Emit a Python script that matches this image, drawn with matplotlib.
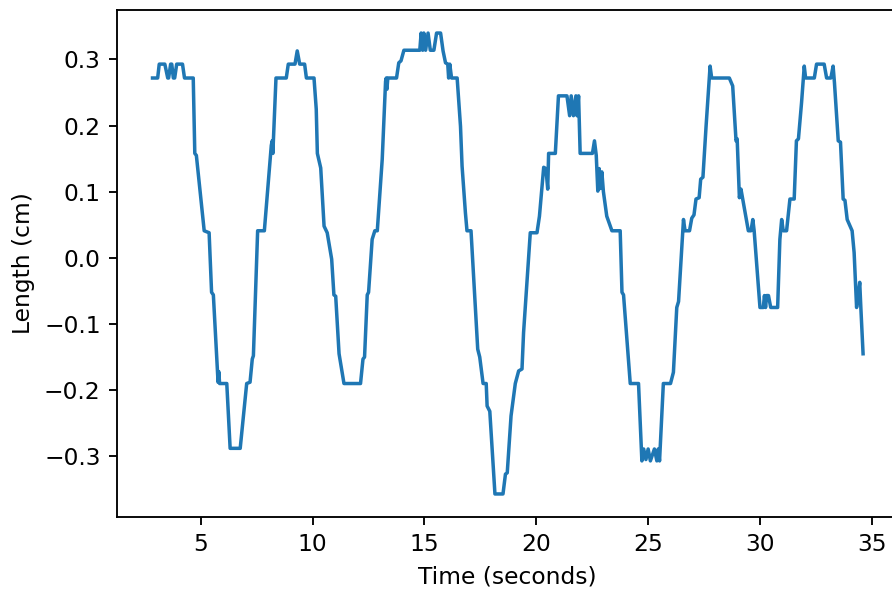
import matplotlib
matplotlib.use('Agg')
import matplotlib.pyplot as plt

# time (s) and length (cm)
time_s = [2.84, 3.07, 3.14, 3.39, 3.52, 3.56, 3.65, 3.70, 3.77, 3.83, 3.92, 4.18, 4.27, 4.66,
          4.73, 4.80, 5.15, 5.37, 5.48, 5.56, 5.77, 5.80, 5.84, 6.16, 6.31, 6.76, 7.05, 7.20,
          7.30, 7.35, 7.54, 7.84, 8.15, 8.19, 8.22, 8.36, 8.82, 8.91, 9.21, 9.31, 9.42, 9.64,
          9.72, 10.06, 10.16, 10.21, 10.36, 10.51, 10.65, 10.85, 10.95, 11.03, 11.18, 11.40,
          12.14, 12.25, 12.32, 12.44, 12.50, 12.66, 12.78, 12.89, 13.11, 13.26, 13.29, 13.32,
          13.36, 13.75, 13.85, 13.95, 14.08, 14.79, 14.85, 14.92, 14.97, 15.05, 15.16, 15.26,
          15.42, 15.54, 15.72, 15.83, 15.94, 16.04, 16.08, 16.13, 16.21, 16.46, 16.61, 16.68,
          16.83, 16.90, 17.08, 17.38, 17.47, 17.62, 17.76, 17.80, 17.92, 18.15, 18.51, 18.62,
          18.70, 18.87, 19.06, 19.21, 19.36, 19.43, 19.73, 20.03, 20.14, 20.33, 20.43, 20.51,
          20.55, 20.85, 20.99, 21.37, 21.49, 21.56, 21.66, 21.77, 21.82, 21.89, 21.96, 22.51,
          22.60, 22.68, 22.75, 22.81, 22.87, 22.93, 23.00, 23.15, 23.38, 23.75, 23.83, 23.90,
          24.20, 24.57, 24.72, 24.80, 24.90, 25.00, 25.10, 25.28, 25.39, 25.45, 25.51, 25.68,
          26.00, 26.13, 26.28, 26.36, 26.58, 26.65, 26.85, 26.95, 27.05, 27.14, 27.28, 27.35,
          27.45, 27.59, 27.77, 27.84, 28.63, 28.78, 28.93, 28.98, 29.08, 29.15, 29.48, 29.60,
          29.68, 29.74, 30.00, 30.15, 30.20, 30.25, 30.30, 30.38, 30.48, 30.79, 30.89, 30.97,
          31.04, 31.19, 31.34, 31.53, 31.63, 31.72, 31.86, 31.98, 32.04, 32.43, 32.53, 32.87,
          32.98, 33.17, 33.27, 33.33, 33.50, 33.60, 33.72, 33.80, 33.90, 34.12, 34.21, 34.32,
          34.39, 34.46, 34.51, 34.61]
length_cm = [0.272, 0.272, 0.293, 0.293, 0.272, 0.272, 0.293, 0.293, 0.272, 0.272, 0.293, 0.293,
             0.272, 0.272, 0.158, 0.155, 0.041, 0.038, -0.052, -0.056, -0.188, -0.172, -0.19,
             -0.19, -0.288, -0.288, -0.19, -0.188, -0.153, -0.148, 0.041, 0.041, 0.17, 0.177,
             0.158, 0.272, 0.272, 0.293, 0.293, 0.313, 0.293, 0.293, 0.272, 0.272, 0.225, 0.158,
             0.136, 0.048, 0.038, -0.002, -0.056, -0.058, -0.145, -0.19, -0.19, -0.153, -0.15,
             -0.056, -0.052, 0.028, 0.041, 0.041, 0.149, 0.267, 0.272, 0.255, 0.272, 0.272,
             0.295, 0.298, 0.314, 0.314, 0.340, 0.314, 0.340, 0.314, 0.340, 0.314, 0.314, 0.340,
             0.340, 0.313, 0.295, 0.293, 0.272, 0.293, 0.272, 0.272, 0.199, 0.139, 0.068, 0.041,
             0.041, -0.138, -0.15, -0.19, -0.19, -0.224, -0.232, -0.357, -0.357, -0.327, -0.325,
             -0.239, -0.19, -0.171, -0.168, -0.113, 0.038, 0.038, 0.063, 0.137, 0.135, 0.104,
             0.158, 0.158, 0.245, 0.245, 0.215, 0.245, 0.215, 0.245, 0.215, 0.245, 0.158, 0.158,
             0.177, 0.155, 0.101, 0.135, 0.105, 0.13, 0.10, 0.063, 0.041, 0.041, -0.052, -0.056,
             -0.19, -0.19, -0.307, -0.289, -0.305, -0.289, -0.307, -0.289, -0.307, -0.289,
             -0.307, -0.19, -0.19, -0.173, -0.075, -0.066, 0.058, 0.041, 0.041, 0.06, 0.065,
             0.089, 0.091, 0.119, 0.122, 0.199, 0.29, 0.272, 0.272, 0.26, 0.177, 0.18, 0.091,
             0.104, 0.041, 0.041, 0.058, 0.041, -0.075, -0.075, -0.057, -0.075, -0.057, -0.057,
             -0.075, -0.075, 0.028, 0.058, 0.041, 0.041, 0.089, 0.089, 0.177, 0.18, 0.235, 0.29,
             0.272, 0.272, 0.293, 0.293, 0.272, 0.272, 0.29, 0.265, 0.177, 0.175, 0.089, 0.087,
             0.058, 0.041, 0.008, -0.075, -0.057, -0.037, -0.075, -0.145]

DPI = 168
fig = plt.figure(figsize=(892 / DPI, 592 / DPI), dpi=DPI)
# axes runs past the right edge of the picture, as in the cropped original
ax = fig.add_axes([117 / 892, 75 / 592, 781.6 / 892, 507 / 592])

ax.plot(time_s, length_cm, color='#1f77b4', linewidth=1.5)
ax.set_xlabel('Time (seconds)')
ax.set_ylabel('Length (cm)')

fig.savefig('out.png', dpi=DPI)
